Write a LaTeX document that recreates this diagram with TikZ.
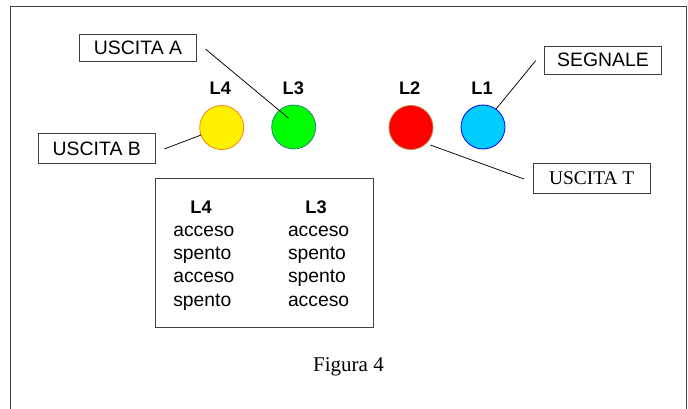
\documentclass[tikz,border=0pt]{standalone}
\usepackage{fontspec}
\setmainfont{Liberation Sans}
\newfontfamily\serifx{Liberation Serif}
\begin{document}
\begin{tikzpicture}[x=1pt,y=-1pt,
  every node/.style={inner sep=0pt,outer sep=0pt},
  frameline/.style={draw=black!75,line width=0.9pt},
  lab/.style={draw=black!75,line width=0.9pt,fill=white,font=\fontsize{19.4}{20}\selectfont,align=center},
  lamp/.style={circle,minimum size=44pt,line width=0.8pt},
  head/.style={anchor=base,font=\fontsize{18.2}{20}\selectfont\bfseries},
  cell/.style={anchor=base west,font=\fontsize{19.3}{20}\selectfont},
  wire/.style={draw=black,line width=0.75pt}]
\useasboundingbox (0,0) rectangle (688,409);
\clip (0,0) rectangle (688,409);
\draw[frameline] (10.5,412) -- (10.5,6) -- (686.5,6) -- (686.5,412);

\node[lamp,fill=yellow,draw=orange] (l4) at (221.7,127.5) {};
\node[lamp,fill=green,draw=teal!70!gray] (l3) at (293.7,127) {};
\node[lamp,fill=red,draw=brown] (l2) at (411,127.5) {};
\node[lamp,fill={rgb,255:red,0;green,204;blue,255},draw=blue] (l1) at (483,127) {};

\node[head] (t4) at (220.3,94.3) {L4};
\node[head] (t3) at (293.3,94.3) {L3};
\node[head] (t2) at (409.7,94.3) {L2};
\node[head] (t1) at (482,94.3) {L1};

\node[lab,minimum width=117pt,minimum height=27.5pt] (ba) at (138,47.75) {USCITA A};
\node[lab,minimum width=116.5pt,minimum height=30pt] (bb) at (96.75,148.5) {USCITA B};
\node[lab,minimum width=117pt,minimum height=28.5pt] (bs) at (603,60.25) {SEGNALE};
\node[lab,minimum width=116.5pt,minimum height=30pt,font=\serifx\fontsize{19.4}{20}\selectfont] (bt) at (591.75,178.5) {USCITA T};

\draw[wire] ([shift={(9.2,1.5)}]ba.east) -- ([shift={(-5,-8.7)}]l3.center);
\draw[wire] ([shift={(9.3,0.5)}]bb.east) -- (l4.200);
\draw[wire] ([shift={(-8.8,0.4)}]bs.west) -- (l1.54);
\draw[wire] ([shift={(19.3,17.5)}]l2.center) -- ([shift={(-9.5,0.5)}]bt.west);

\node[draw=black!75,line width=0.9pt,minimum width=218.5pt,minimum height=148.6pt] (tab) at (264.25,253) {};

\node[head] (h4) at (201,213) {L4};
\node[head] (h3) at (316,213) {L3};
\node[cell] (a1) at (173.3,236) {acceso};
\node[cell] (a2) at (173.3,259.3) {spento};
\node[cell] (a3) at (173.3,282.3) {acceso};
\node[cell] (a4) at (173.3,306) {spento};
\node[cell] (b1) at (288,236) {acceso};
\node[cell] (b2) at (288,259.3) {spento};
\node[cell] (b3) at (288,282.3) {spento};
\node[cell] (b4) at (288,306) {acceso};

\node[anchor=base,font=\serifx\fontsize{21}{22}\selectfont] (fig) at (348.5,371.7) {Figura 4};
\end{tikzpicture}
\end{document}
